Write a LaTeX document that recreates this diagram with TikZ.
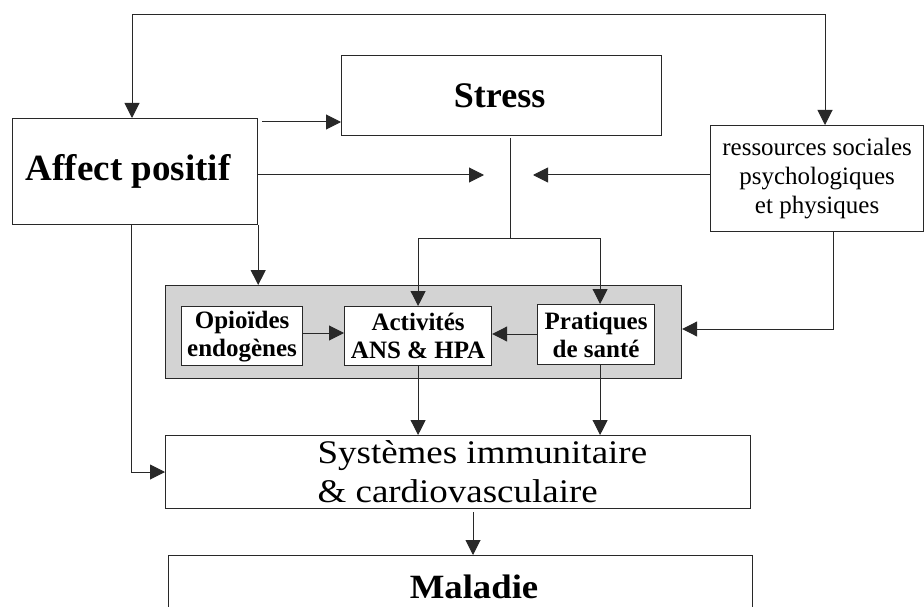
\documentclass[tikz,border=0pt]{standalone}
\usepackage{fontspec}
\setmainfont{Liberation Serif}
\newfontfamily\widefont[FakeStretch=1.12]{Liberation Serif}
\newfontfamily\widebold[FakeStretch=1.08]{Liberation Serif Bold}
\usetikzlibrary{arrows.meta,calc}
\definecolor{grpgray}{RGB}{211,211,211}
\definecolor{ln}{RGB}{40,40,40}
\begin{document}
\begin{tikzpicture}[x=1pt,y=-1pt,
  box/.style={draw=ln,line width=1.2pt,fill=white,inner sep=0pt,align=center,anchor=north west},
  con/.style={draw=ln,line width=1pt},
  arr/.style={con,-{Triangle[length=15pt,width=15pt]}},
  dbl/.style={con,{Triangle[length=15pt,width=15pt]}-{Triangle[length=15pt,width=15pt]}},
  bigb/.style={font=\fontsize{37}{40}\selectfont\bfseries},
  smallb/.style={font=\fontsize{25}{28}\selectfont\bfseries},
  smallr/.style={font=\fontsize{25}{29}\selectfont}]
\useasboundingbox[fill=white] (0,0) rectangle (924,607);

% nodes
\node[box,bigb,minimum width=245pt,minimum height=106pt] (affect) at (12,118) {Affect positif\hspace*{14pt}};
\node[box,font=\fontsize{36}{40}\selectfont\bfseries,minimum width=320pt,minimum height=80pt] (stress) at (341,55) {Stress\hspace*{4pt}};
\node[box,smallr,minimum width=213pt,minimum height=106pt] (res) at (710,125) {ressources sociales\\psychologiques\\et physiques};
\node[box,fill=grpgray,minimum width=516pt,minimum height=93pt] (grp) at (165,285) {};
\node[box,smallb,minimum width=121pt,minimum height=59pt] (opio) at (181,306) {Opioïdes\\endogènes};
\node[box,smallb,minimum width=147pt,minimum height=59pt] (act) at (344,306) {Activités\\ANS \& HPA};
\node[box,smallb,minimum width=117pt,minimum height=60pt] (prat) at (537,304) {Pratiques\\de santé};
\node[box,minimum width=585pt,minimum height=73pt] (sys) at (165,435)
  {\begin{minipage}{585pt}\widefont\fontsize{33}{39}\selectfont\leftskip=152pt Systèmes immunitaire\\\& cardiovasculaire\end{minipage}};
\node[box,minimum width=584pt,minimum height=90pt] (mal) at (168,555) {};
\node[font=\widebold\fontsize{34}{38}\selectfont,anchor=base] (maltxt) at (474,598) {Maladie};

% coordinates
\coordinate (topL) at (132,15);
\coordinate (topR) at (825,15);
\coordinate (sb) at (510,138);
\coordinate (jb) at (510,238);
\coordinate (jl) at (484,175);
\coordinate (jr) at (533,175);
\coordinate (rc) at (833,329);
\coordinate (a1) at ([xshift=4pt,yshift=-4pt]affect.north east);
\coordinate (pr) at ([xshift=4pt]prat.north);
\coordinate (prs) at ([xshift=4pt]prat.south);
\coordinate (af) at (131,472);
\coordinate (ss) at (473,512);

% connectors
\draw[dbl] (topL |- affect.north) -- (topL) -- (topR) -- (topR |- res.north);
\draw[arr] (a1) -- (a1 -| stress.west);
\draw[arr] (affect.east |- jl) -- (jl);
\draw[arr] (res.west |- jr) -- (jr);
\draw[con] (sb) -- (jb);
\draw[arr] (jb) -| (act.north);
\draw[arr] (jb) -| (pr);
\draw[arr] (affect.south east) -- (affect.south east |- grp.north);
\draw[arr] (res.south -| rc) -- (rc) -- (rc -| grp.east);
\draw[arr] (opio.east |- 0,333) -- (act.west |- 0,333);
\draw[arr] (prat.west |- 0,334) -- (act.east |- 0,334);
\draw[arr] (act.south) -- (act.south |- sys.north);
\draw[arr] (prs) -- (prs |- sys.north);
\draw[arr] (affect.south -| af) -- (af) -- (af -| sys.west);
\draw[arr] (ss) -- (ss |- mal.north);
\end{tikzpicture}
\end{document}
